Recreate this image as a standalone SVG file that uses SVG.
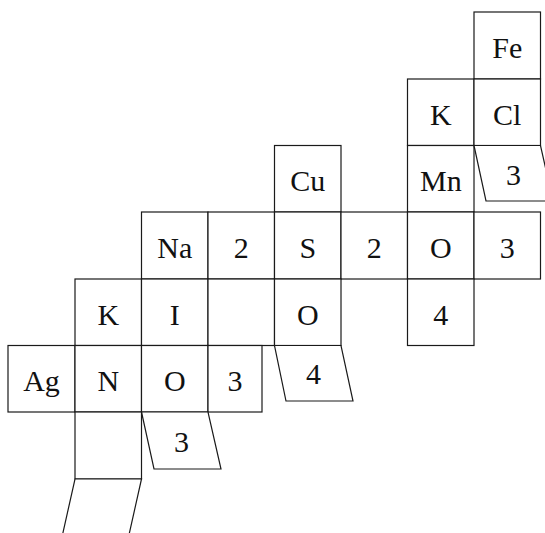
<svg xmlns="http://www.w3.org/2000/svg" width="545" height="533" viewBox="0 0 545 533">
<style>
.c{fill:#fff;stroke:#1a1a1a;stroke-width:1.2}
.t{font-family:"Liberation Serif","Times New Roman",serif;font-size:30px;fill:#111;text-anchor:middle}
</style>
<rect width="545" height="533" fill="#fff"/>
<g id="Fe"><rect class="c" x="474" y="12" width="66.5" height="67"/><text class="t" x="507.3" y="57.5">Fe</text></g>
<g id="K1"><rect class="c" x="407.5" y="79" width="66.5" height="66.5"/><text class="t" x="440.8" y="124.5">K</text></g>
<g id="Cl"><rect class="c" x="474" y="79" width="66.5" height="66.5"/><text class="t" x="507.3" y="124.5">Cl</text></g>
<g id="Cu"><rect class="c" x="274.5" y="145.5" width="66.5" height="66.5"/><text class="t" x="307.8" y="191">Cu</text></g>
<g id="Mn"><rect class="c" x="407.5" y="145.5" width="66.5" height="66.5"/><text class="t" x="440.8" y="191">Mn</text></g>
<g id="Cl3"><path class="c" d="M474,145.5 L540.5,145.5 L553,201 L486,201 Z"/><text class="t" x="513.5" y="185">3</text></g>
<g id="Na"><rect class="c" x="141.5" y="212" width="66.5" height="67"/><text class="t" x="174.8" y="257.5">Na</text></g>
<g id="Na2"><rect class="c" x="208" y="212" width="66.5" height="67"/><text class="t" x="241.3" y="257.5">2</text></g>
<g id="S"><rect class="c" x="274.5" y="212" width="66.5" height="67"/><text class="t" x="307.8" y="257.5">S</text></g>
<g id="S2"><rect class="c" x="341" y="212" width="66.5" height="67"/><text class="t" x="374.3" y="257.5">2</text></g>
<g id="O1"><rect class="c" x="407.5" y="212" width="66.5" height="67"/><text class="t" x="440.8" y="257.5">O</text></g>
<g id="O3"><rect class="c" x="474" y="212" width="66.5" height="67"/><text class="t" x="507.3" y="257.5">3</text></g>
<g id="K2"><rect class="c" x="75" y="279" width="66.5" height="66.5"/><text class="t" x="108.3" y="324.5">K</text></g>
<g id="I"><rect class="c" x="141.5" y="279" width="66.5" height="66.5"/><text class="t" x="174.8" y="324.5">I</text></g>
<g id="E1"><rect class="c" x="208" y="279" width="66.5" height="66.5"/></g>
<g id="O2"><rect class="c" x="274.5" y="279" width="66.5" height="66.5"/><text class="t" x="307.8" y="324.5">O</text></g>
<g id="O4"><rect class="c" x="407.5" y="279" width="66.5" height="66.5"/><text class="t" x="440.8" y="324.5">4</text></g>
<g id="SO4"><path class="c" d="M274.5,345.5 L341,345.5 L353,401 L286,401 Z"/><text class="t" x="313.5" y="384">4</text></g>
<g id="Ag"><rect class="c" x="8" y="345.5" width="67" height="66.5"/><text class="t" x="41.5" y="391">Ag</text></g>
<g id="N"><rect class="c" x="75" y="345.5" width="66.5" height="66.5"/><text class="t" x="108.3" y="391">N</text></g>
<g id="O5"><rect class="c" x="141.5" y="345.5" width="66.5" height="66.5"/><text class="t" x="174.8" y="391">O</text></g>
<g id="N3"><rect class="c" x="208" y="345.5" width="54" height="66.5"/><text class="t" x="235" y="391">3</text></g>
<g id="NO3"><path class="c" d="M141.5,412 L208,412 L221,469 L154,469 Z"/><text class="t" x="181.5" y="452">3</text></g>
<g id="E2"><rect class="c" x="75" y="412" width="66.5" height="67"/></g>
<g id="E3"><path class="c" d="M62,537 L75,479 L141.5,479 L128.5,537" fill="none"/></g>
</svg>
